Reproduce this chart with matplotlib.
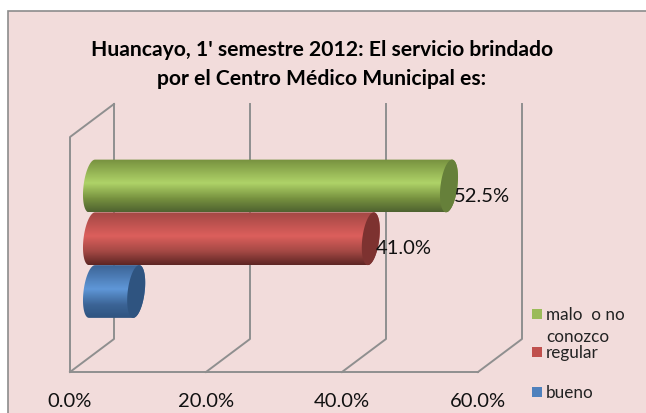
import numpy as np
import matplotlib
matplotlib.use('Agg')
import matplotlib.pyplot as plt
from matplotlib.colors import LinearSegmentedColormap
from matplotlib.patches import PathPatch, Rectangle
from matplotlib.path import Path

plt.rcParams['font.family'] = ['Lato', 'DejaVu Sans']

# Data, drawn bottom to top
categories = ['bueno', 'regular', 'malo  o no\nconozco']
values = [6.5, 41.0, 52.5]
value_ticks = [0, 20, 40, 60]
title_lines = ["Huancayo, 1' semestre 2012: El servicio brindado", 'por el Centro Médico Municipal es:']

# top edge, highlight, bottom edge of each cylinder
shades = [['#3c6496', '#5f97d8', '#2f5480'],
          ['#a34844', '#dc5f5c', '#5f2624'],
          ['#77913f', '#afd368', '#4f6330']]
cap_colors = ['#2f5480', '#7d3230', '#66803a']
legend_colors = ['#4f81bd', '#c0504d', '#9bbb59']
legend_y = [393, 353, 315]

W, H = 646, 414
PINK = '#f2dcdb'
GRID = '#8f8f8f'

fig = plt.figure(figsize=(W / 100, H / 100), dpi=100)

# overlay in pixel coordinates for the walls and the text
bg = fig.add_axes([0, 0, 1, 1])
bg.set_xlim(0, W)
bg.set_ylim(H, 0)
bg.axis('off')
bg.add_patch(Rectangle((8, 12), W + 10, H + 10, fc=PINK, ec='#8c8c8c', lw=1.2))

# axes for the bars: 6.8 px per percent, 52.75 px per category
PX_X, PX_Y = 6.8, 52.75
X0, Y0 = 92, 292.5
ax = fig.add_axes([0, 0, 1, 1])
ax.axis('off')
ax.patch.set_alpha(0)

# walls and floor
front_x = [70 + PX_X * v for v in value_ticks]
back_x = [114 + PX_X * v for v in value_ticks]
bg.plot([70, 70, 114], [373, 138, 105], color=GRID, lw=1.4)
bg.plot([front_x[0], front_x[-1]], [373, 373], color=GRID, lw=1.4)
for fx, bx in zip(front_x, back_x):
    bg.plot([fx, bx, bx], [373, 340, 105], color=GRID, lw=1.4)

for v, fx in zip(value_ticks, front_x):
    bg.text(fx, 402, '%.1f%%' % v, ha='center', va='center', fontsize=14.5, color='#111111')

# cylinders
a = 8.5 / PX_X   # half width of the end ellipse
b = 0.5
s = 3 / PX_X     # lean of the ellipse
t = np.linspace(0, np.pi, 40)
for i, val in enumerate(values):
    z = 2 + i
    # outline: left half of the start ellipse, right half of the end ellipse
    lx = -a * np.sin(t) + s * np.cos(t)
    ly = i + b * np.cos(t)
    rx = val + a * np.sin(t[::-1]) + s * np.cos(t[::-1])
    ry = i + b * np.cos(t[::-1])
    outline = np.column_stack([np.r_[lx, rx], np.r_[ly, ry]])
    body = PathPatch(Path(np.vstack([outline, outline[0]]), closed=True), fc='none', ec='none')
    ax.add_patch(body)
    cmap = LinearSegmentedColormap.from_list('c%d' % i, [(0, shades[i][0]), (0.45, shades[i][1]),
                                                         (0.75, shades[i][0]), (1, shades[i][2])])
    im = ax.imshow(np.linspace(0, 1, 64).reshape(-1, 1), cmap=cmap, aspect='auto', zorder=z,
                   extent=(-a - s, val + a + s, i - b, i + b), origin='upper', interpolation='bilinear')
    im.set_clip_path(body)
    # end cap
    cap_t = np.linspace(0, 2 * np.pi, 80)
    ax.fill(val + a * np.sin(cap_t) + s * np.cos(cap_t), i + b * np.cos(cap_t),
            color=cap_colors[i], lw=0, zorder=z + 0.5)

# imshow resets limits
ax.set_xlim(-X0 / PX_X, (W - X0) / PX_X)
ax.set_ylim((Y0 - H) / PX_Y, Y0 / PX_Y)

# data labels, blue bar has none
for i, val in enumerate(values):
    if i == 0:
        continue
    ax.annotate('%.1f%%' % val, (val, i), xytext=(3.5, -6.5), textcoords='offset points', ha='left',
                va='center', fontsize=14.5, color='#111111', zorder=10)

# title
for line, ty in zip(title_lines, [50, 79]):
    bg.text(322, ty, line, ha='center', va='center', fontsize=15.2, fontweight='bold', color='black')

# legend
for name, col, ly in zip(categories, legend_colors, legend_y):
    bg.add_patch(Rectangle((532, ly - 5), 10, 10, fc=col, ec='none'))
    for j, line in enumerate(name.split('\n')):
        bg.text(546, ly + j * 22, line, ha='left', va='center', fontsize=12.3, color='#222222')

fig.savefig('out.png', dpi=100)
